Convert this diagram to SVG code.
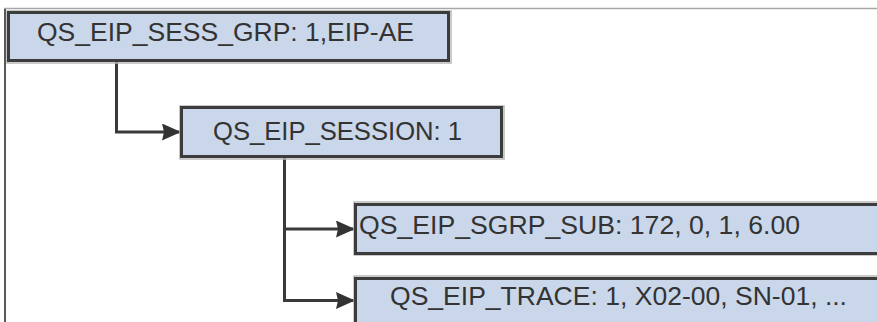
<svg xmlns="http://www.w3.org/2000/svg" width="877" height="322" viewBox="0 0 877 322">
  <defs>
    <marker id="arrow" markerWidth="19" markerHeight="17" refX="19" refY="8.5" orient="auto" markerUnits="userSpaceOnUse">
      <path d="M0,0 L19,8.5 L0,17 L2,8.5 Z" fill="#333333"/>
    </marker>
    <style>
      .box { fill: #cad7ea; stroke: #3c3c3c; stroke-width: 3; }
      .shadow { fill: none; stroke: #b8b8b8; stroke-width: 1.5; }
      .label { font-family: "Liberation Sans", Arial, sans-serif; font-size: 25px; fill: #333333; }
      .conn { fill: none; stroke: #3a3a3a; stroke-width: 3; }
    </style>
  </defs>
  <rect x="0" y="0" width="877" height="322" fill="#ffffff"/>
  <line x1="4" y1="8.5" x2="877" y2="8.5" stroke="#a8a8a8" stroke-width="1.5"/>
  <line x1="5" y1="9" x2="5" y2="322" stroke="#222222" stroke-width="1.5"/>

  <g id="connectors">
    <path class="conn" d="M116.5,61 V132 H181" marker-end="url(#arrow)"/>
    <path class="conn" d="M284.5,156 V229 H355" marker-end="url(#arrow)"/>
    <path class="conn" d="M284.5,228 V300.5 H355" marker-end="url(#arrow)"/>
  </g>

  <g id="node-sess-grp">
    <rect class="shadow" x="7" y="11" width="444" height="52"/>
    <rect class="box" x="8.5" y="12.5" width="440" height="48"/>
    <text class="label" x="37" y="41" textLength="377" lengthAdjust="spacingAndGlyphs">QS_EIP_SESS_GRP: 1,EIP-AE</text>
  </g>

  <g id="node-session">
    <rect class="shadow" x="180" y="106" width="324" height="53"/>
    <rect class="box" x="181.5" y="107.5" width="320" height="49"/>
    <text class="label" x="213" y="139.5" textLength="249" lengthAdjust="spacingAndGlyphs">QS_EIP_SESSION: 1</text>
  </g>

  <g id="node-sgrp-sub">
    <rect class="shadow" x="354" y="202" width="530" height="53"/>
    <rect class="box" x="355.5" y="204.5" width="530" height="49"/>
    <text class="label" x="359" y="234" textLength="441" lengthAdjust="spacingAndGlyphs">QS_EIP_SGRP_SUB: 172, 0, 1, 6.00</text>
  </g>

  <g id="node-trace">
    <rect class="shadow" x="354" y="276" width="530" height="60"/>
    <rect class="box" x="355.5" y="278.5" width="530" height="55"/>
    <text class="label" x="390" y="305" textLength="457" lengthAdjust="spacingAndGlyphs">QS_EIP_TRACE: 1, X02-00, SN-01, ...</text>
  </g>
</svg>
